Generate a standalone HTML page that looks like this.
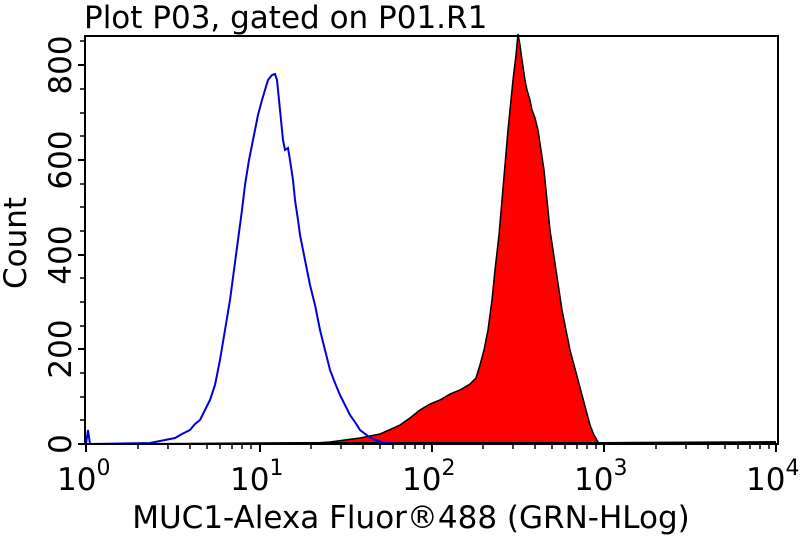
<!DOCTYPE html>
<html><head><meta charset="utf-8"><style>
body{margin:0;background:#fff;width:800px;height:538px;overflow:hidden}
svg{display:block}
text{font-family:"DejaVu Sans","Liberation Sans",sans-serif;fill:#000}
</style></head><body>
<svg width="800" height="538" viewBox="0 0 800 538">
<text x="84" y="28" font-size="31">Plot P03, gated on P01.R1</text>
<path d="M300,444 L330,442 L360,438 L380,434 L400,425 L410,418 L420,410 L430,404 L440,400 L450,394 L460,390 L470,384 L476,378 L480,365 L484,350 L488,330 L492,300 L495,270 L499,235 L502,200 L505,165 L508,130 L511,100 L513,80 L516,55 L518,34 L520,45 L522,60 L525,80 L527,90 L530,100 L532,110 L535,118 L538,130 L541,150 L544,170 L547,200 L550,230 L553,250 L556,270 L559,290 L562,310 L566,330 L570,350 L574,365 L578,380 L582,395 L586,410 L590,425 L594,435 L598,442 L600,444 Z" fill="#ff0000" stroke="#000" stroke-width="1.5"/>
<path d="M150,444 L300,443 L600,443 L776,442" fill="none" stroke="#000" stroke-width="2"/>
<path d="M86,444 L88,430 L90,444 L150,443 L175,438 L182,434 L190,430 L195,424 L200,420 L205,410 L210,400 L215,385 L220,360 L225,330 L230,300 L234,270 L238,240 L242,210 L245,185 L249,160 L252,145 L255,130 L258,115 L262,100 L265,90 L268,80 L272,75 L275,74 L277,80 L280,110 L283,140 L285,150 L288,148 L290,160 L293,180 L295,200 L298,220 L300,235 L305,260 L310,285 L315,305 L320,330 L325,350 L330,370 L335,383 L340,395 L345,405 L350,415 L355,422 L360,430 L368,436 L375,440 L385,443 L400,444" fill="none" stroke="#0000dd" stroke-width="2"/>
<rect x="85" y="36" width="693" height="408" fill="none" stroke="#000" stroke-width="2"/>
<g stroke="#000" stroke-width="2">
<line x1="78" y1="444" x2="85" y2="444"/><line x1="78" y1="65" x2="85" y2="65"/><line x1="78" y1="160" x2="85" y2="160"/><line x1="78" y1="255" x2="85" y2="255"/><line x1="78" y1="349" x2="85" y2="349"/>
<line x1="86" y1="444" x2="86" y2="452"/><line x1="260" y1="444" x2="260" y2="452"/><line x1="432" y1="444" x2="432" y2="452"/><line x1="604" y1="444" x2="604" y2="452"/><line x1="776" y1="444" x2="776" y2="452"/>
</g>
<g stroke="#000" stroke-width="1.5">
<line x1="80" y1="420" x2="85" y2="420"/><line x1="80" y1="397" x2="85" y2="397"/><line x1="80" y1="373" x2="85" y2="373"/><line x1="80" y1="326" x2="85" y2="326"/><line x1="80" y1="302" x2="85" y2="302"/><line x1="80" y1="278" x2="85" y2="278"/><line x1="80" y1="231" x2="85" y2="231"/><line x1="80" y1="207" x2="85" y2="207"/><line x1="80" y1="184" x2="85" y2="184"/><line x1="80" y1="136" x2="85" y2="136"/><line x1="80" y1="113" x2="85" y2="113"/><line x1="80" y1="89" x2="85" y2="89"/><line x1="80" y1="41" x2="85" y2="41"/>
</g>
<g stroke="#000" stroke-width="1.5" id="mt">
<line x1="138" y1="444" x2="138" y2="449"/><line x1="168" y1="444" x2="168" y2="449"/><line x1="190" y1="444" x2="190" y2="449"/><line x1="207" y1="444" x2="207" y2="449"/><line x1="220" y1="444" x2="220" y2="449"/><line x1="232" y1="444" x2="232" y2="449"/><line x1="242" y1="444" x2="242" y2="449"/><line x1="251" y1="444" x2="251" y2="449"/>
</g>
<use href="#mt" x="173"/><use href="#mt" x="345"/><use href="#mt" x="518"/>
<g font-size="31">
<text x="60" y="444" transform="rotate(-90 60 444)" text-anchor="middle" dy="11">0</text>
<text x="60" y="349" transform="rotate(-90 60 349)" text-anchor="middle" dy="11">200</text>
<text x="60" y="255" transform="rotate(-90 60 255)" text-anchor="middle" dy="11">400</text>
<text x="60" y="160" transform="rotate(-90 60 160)" text-anchor="middle" dy="11">600</text>
<text x="60" y="65" transform="rotate(-90 60 65)" text-anchor="middle" dy="11">800</text>
<text x="15" y="243" transform="rotate(-90 15 243)" text-anchor="middle" dy="11">Count</text>
</g>
<g font-size="31">
<text x="57" y="490">10<tspan dy="-15" font-size="22">0</tspan></text>
<text x="230" y="490">10<tspan dy="-15" font-size="22">1</tspan></text>
<text x="402" y="490">10<tspan dy="-15" font-size="22">2</tspan></text>
<text x="574" y="490">10<tspan dy="-15" font-size="22">3</tspan></text>
<text x="746" y="490">10<tspan dy="-15" font-size="22">4</tspan></text>
<text x="411" y="528" text-anchor="middle">MUC1-Alexa Fluor®488 (GRN-HLog)</text>
</g>
</svg>
</body></html>
